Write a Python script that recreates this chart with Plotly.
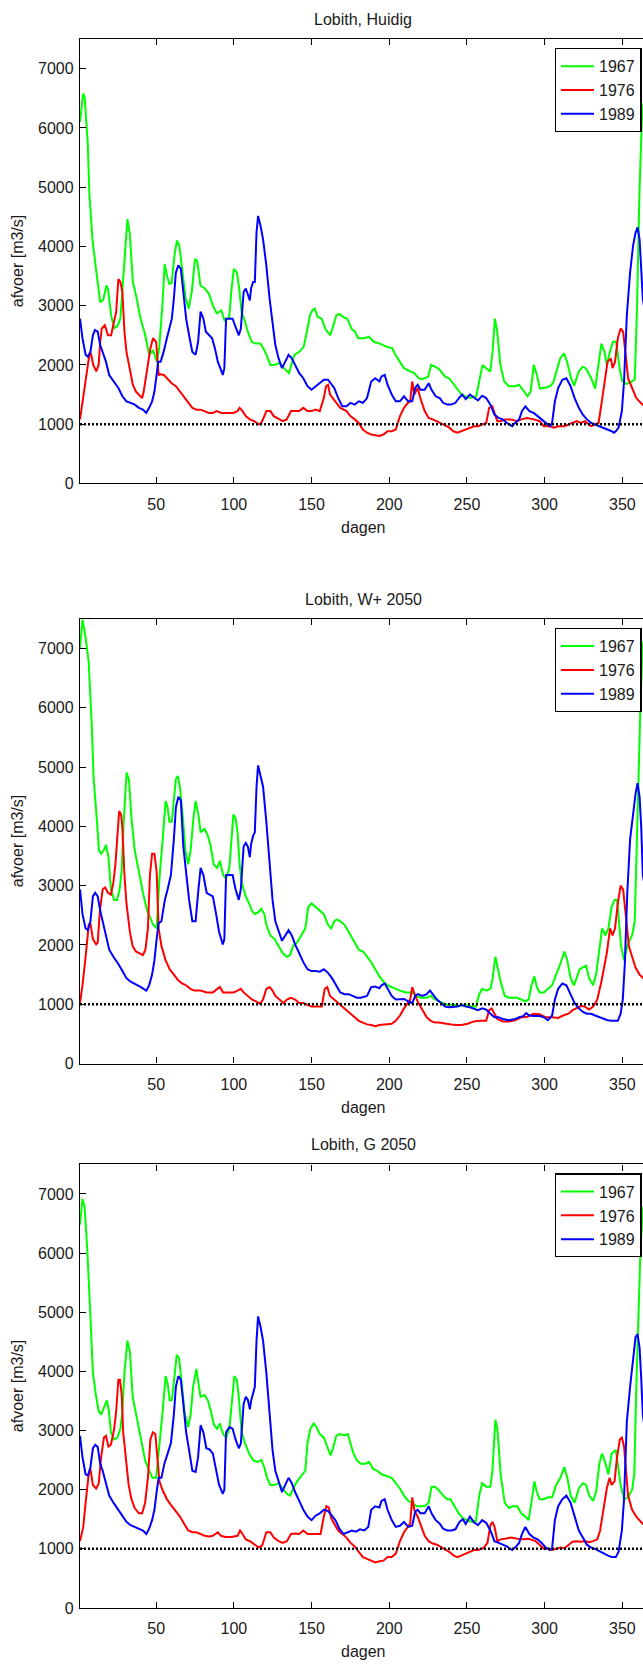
import plotly.graph_objects as go

# ---------------- data (dag, afvoer m3/s) ----------------
jaren = ["1967", "1976", "1989"]
kleuren = ["#00ff00", "#ff0000", "#0000ff"]
titels = ["Lobith, Huidig", "Lobith, W+ 2050", "Lobith, G 2050"]
x_ticks = [50, 100, 150, 200, 250, 300, 350]
y_ticks = [0, 1000, 2000, 3000, 4000, 5000, 6000, 7000]
drempel = 1000
dagen_bereik = [1, 365]

huidig_1967 = [(1,6100),(3,6580),(4,6520),(6,5740),(7,4900),(9,4120),(11,3680),(13,3230),(14,3060),(16,3100),(18,3340),(19,3290),(21,2840),(23,2620),(25,2650),(27,2780),(28,3120),(30,3900),(31.5,4460),(33,4230),(35,3400),(37.5,3120),(40,2780),(43,2500),(45.5,2170),(48,2250),(50.5,2050),(52,2300),(54,3000),(55.5,3700),(57,3500),(58.5,3370),(60,3380),(62,3900),(63.5,4100),(65,4000),(67,3520),(69,3120),(71,2950),(73,3250),(75,3790),(76.5,3750),(78.5,3340),(81,3300),(84,3200),(86.5,3000),(89,2870),(92,2920),(94,2750),(97,2800),(98.5,3280),(100,3620),(102,3560),(103.5,3280),(105,2890),(107,2750),(109,2560),(111.5,2390),(114,2360),(117,2360),(119,2280),(121,2170),(123.5,2000),(126,2000),(129,2030),(132,1950),(135.5,1860),(137,2000),(139,2170),(142.5,2230),(145,2310),(147,2560),(149,2840),(150.5,2920),(152,2950),(154,2810),(156.5,2780),(159,2600),(162,2500),(164,2660),(166,2840),(168,2860),(171,2800),(173,2780),(176,2600),(178,2560),(180,2450),(184,2450),(187,2475),(190,2390),(194,2360),(198,2310),(202,2280),(204,2170),(207,2050),(209.5,1945),(213.5,1890),(216,1860),(219,1775),(221,1760),(225,1800),(227,2000),(229,1980),(232,1930),(236,1800),(238.5,1775),(241,1690),(244,1580),(246.5,1500),(249,1470),(252,1440),(256,1470),(258.5,1830),(260,2000),(262.5,1940),(265,1890),(266.5,2220),(268,2780),(269.5,2560),(271.5,2000),(274,1720),(277,1640),(281,1640),(283.5,1665),(286,1580),(289,1470),(291,1550),(293,2000),(295,1830),(297,1600),(301,1620),(303.5,1640),(305.5,1700),(307.5,1900),(310,2110),(312.5,2195),(314.5,2050),(317,1775),(319,1650),(322,1890),(324.5,1970),(326.5,1940),(330,1775),(332.5,1600),(335,2110),(336.5,2360),(338.5,2220),(340,2000),(342,2220),(344,2390),(346,2390),(347,2170),(348.5,1900),(350,1720),(352.5,1680),(355,1700),(358,1750),(359.5,3000),(361,4900),(362.5,6100),(363.5,6400),(365,6500)]
huidig_1976 = [(1,1080),(3,1440),(5,1830),(7,2170),(8,2200),(9.5,2000),(11.5,1890),(13,2000),(14,2390),(15,2615),(17,2670),(19,2500),(21,2500),(23,2730),(24.3,2900),(25.7,3450),(27,3400),(28.3,3230),(29.6,2560),(30.9,2220),(33,1945),(35,1665),(37,1550),(39,1500),(41,1440),(42,1550),(44.2,1890),(46.3,2280),(48,2450),(50,2390),(51.6,1830),(53,1840),(55,1830),(57.5,1760),(60,1690),(62.7,1640),(65.3,1550),(68,1440),(70.6,1360),(73.3,1275),(76,1245),(78.6,1245),(81,1220),(84,1190),(86.5,1190),(89,1220),(92,1190),(95.8,1190),(99.7,1190),(102.4,1220),(103.7,1275),(105.6,1220),(107.7,1135),(110.3,1080),(113,1050),(116,995),(117.7,1020),(121,1220),(123.5,1220),(125.7,1135),(129,1080),(131.5,1050),(134,1080),(136.8,1220),(139.4,1220),(142,1220),(144.7,1275),(147.4,1220),(150,1220),(152.6,1245),(155.3,1220),(157.9,1440),(159.3,1640),(160.6,1665),(161.9,1500),(163.8,1440),(165.9,1360),(168.5,1275),(172.5,1220),(175,1135),(177.8,1080),(180.4,1020),(183,910),(185.7,855),(188.4,825),(191,815),(193.7,800),(196.3,825),(198.9,880),(201.6,880),(204.2,910),(206.9,1135),(209.5,1275),(212,1360),(213.5,1385),(214.8,1720),(216.1,1500),(218.3,1610),(220,1440),(222.8,1220),(225.4,1105),(228,1080),(230.7,1050),(234.7,995),(238.6,940),(241.3,880),(243.9,855),(246.6,880),(249.2,910),(251.9,940),(254.5,965),(257,965),(259.8,995),(262.4,1020),(264.3,1275),(266.4,1300),(267.7,1190),(269.6,1050),(271.7,1050),(274.3,1080),(278.3,1080),(282.3,1050),(285,1080),(288.9,1105),(292.9,1080),(296.8,1050),(299.5,965),(303.4,965),(306.1,940),(308.7,965),(312.7,965),(315.3,995),(318,1020),(320.6,1050),(323.3,1020),(325.9,1050),(329.9,965),(332.5,995),(334.7,1020),(336.5,1330),(338.4,1720),(340.5,2055),(342.6,2110),(343.7,1945),(345.3,2055),(347.1,2450),(348.9,2615),(350.5,2560),(352.4,2110),(353.7,1775),(356.3,1610),(359,1440),(363,1330),(365,1300)]
huidig_1989 = [(1,2780),(2.6,2450),(4.6,2170),(6,2140),(7.7,2220),(9.3,2500),(10.6,2590),(12.4,2560),(14,2335),(15.6,2220),(17.7,2055),(19.8,1830),(22.5,1720),(25.7,1610),(28.3,1470),(30.9,1385),(33.6,1360),(36.2,1330),(38.9,1275),(41.5,1245),(43.6,1190),(45.5,1275),(47.4,1385),(48.9,1550),(50.3,1830),(51.3,2055),(52.9,2055),(54.8,2220),(56.9,2450),(58.7,2615),(60.1,2780),(61.4,3120),(62.7,3560),(64.3,3680),(65.9,3620),(67.5,3230),(69.3,2780),(71.2,2500),(73.3,2220),(75.4,2170),(77,2390),(78.6,2900),(80.4,2780),(82,2560),(83.9,2500),(86,2450),(87.8,2280),(89.7,2055),(91.3,1945),(92.9,1830),(93.9,1945),(95,2780),(97.1,2780),(99.2,2780),(101.1,2640),(103.2,2500),(104.5,2615),(106.3,3230),(107.7,3290),(109,3200),(110.3,3090),(111.1,3290),(112.4,3400),(113.5,3400),(114.6,4235),(115.6,4515),(117.2,4345),(118.8,4120),(120.9,3680),(123,3120),(124.9,2670),(126.7,2335),(128.8,2110),(131,1945),(133.1,2055),(135.2,2170),(137.3,2110),(139.4,2000),(142.1,1860),(144.7,1775),(147.4,1640),(150,1580),(152.6,1640),(155.3,1690),(157.9,1750),(160.6,1750),(162.7,1665),(164.6,1610),(167.2,1440),(169.8,1300),(172.5,1300),(175.1,1360),(177.8,1330),(180.4,1385),(183.1,1360),(185.7,1440),(188.4,1720),(191,1775),(193.7,1720),(195,1805),(197.1,1830),(198.9,1665),(201.6,1500),(204.2,1385),(206.9,1385),(209.5,1470),(212.2,1385),(214.8,1385),(216.7,1610),(218.3,1665),(220.1,1580),(222.8,1580),(225.4,1690),(227.2,1580),(229.9,1470),(232.5,1440),(234.7,1360),(237.3,1330),(239.9,1330),(242.6,1360),(245.2,1450),(247,1500),(249.2,1420),(251.9,1500),(254.5,1450),(257.1,1400),(259.8,1480),(262.4,1440),(265.1,1330),(267.7,1160),(270.4,1105),(273,1080),(275.7,1020),(279.1,965),(281,1020),(283.6,1080),(285.4,1220),(287.6,1300),(290.2,1220),(292.9,1190),(295.5,1135),(298.1,1080),(300.8,1020),(303.4,965),(304.8,1020),(306.6,1385),(308.7,1610),(311.4,1750),(314,1775),(316.7,1640),(319.3,1440),(322,1275),(324.6,1160),(327.2,1080),(329.9,1020),(332.5,995),(335.2,965),(337.8,940),(340.5,910),(343.1,880),(344.6,855),(345.8,880),(347.6,940),(349.7,1220),(351.1,1720),(352.9,2840),(355,3560),(356.9,4010),(358.5,4230),(359.8,4320),(361.1,4120),(362.2,3680),(363.2,3120),(365,2800)]

wplus_1967 = [(1,7010),(2.6,7490),(4.6,7190),(6.6,6770),(8.5,5750),(9.8,4800),(11.6,4200),(13.2,3600),(14.6,3540),(16.4,3600),(17.7,3690),(19.3,3480),(20.9,2940),(23,2760),(24.8,2760),(26.5,2940),(27.8,3240),(29.1,4080),(31,4910),(32.5,4790),(34.1,4140),(36.2,3600),(38.9,3240),(41.5,2880),(44.2,2580),(46.3,2460),(48.1,2340),(50.3,2280),(52.1,3120),(54.2,3780),(56.1,4430),(57.4,4315),(58.5,4080),(60.1,4080),(61.4,4430),(62.7,4800),(64,4850),(65.3,4670),(67.2,4140),(68.8,3600),(70.6,3360),(72.2,3600),(73.8,4080),(75.4,4430),(77.2,4200),(78.6,3900),(81.2,3960),(83.3,3840),(85.2,3660),(87,3360),(89.2,3300),(91,3420),(93.1,3180),(95,3120),(97.1,3300),(98.4,3720),(99.7,4200),(101.1,4140),(102.4,3900),(103.7,3360),(105,3060),(106.3,2940),(107.7,2820),(109.8,2700),(111.6,2580),(113.5,2520),(115.6,2550),(117.7,2610),(119.6,2520),(120.9,2340),(123.5,2160),(126.2,2100),(128.8,1980),(131.5,1860),(134.1,1800),(136.2,1830),(138.1,1980),(140.7,2040),(143.4,2160),(146,2280),(147.9,2640),(150,2700),(152.6,2640),(155.3,2580),(157.9,2520),(160.6,2340),(162.7,2280),(164.6,2400),(166.4,2430),(168.5,2400),(171.2,2340),(173.3,2250),(175.1,2160),(177.8,2040),(180.4,1920),(183.1,1890),(185.7,1800),(188.4,1710),(191,1590),(193.7,1470),(196.3,1380),(198.9,1320),(201.6,1290),(204.2,1260),(206.9,1230),(210.8,1200),(214.8,1200),(217.5,1140),(220.1,1110),(224.1,1110),(226.7,1140),(229.4,1080),(232,1050),(234.7,1020),(237.3,990),(241.3,990),(245.2,970),(249.2,990),(253.2,960),(255.8,960),(257.9,1170),(259.8,1260),(262.4,1230),(265.1,1260),(266.4,1410),(268.3,1800),(269.6,1620),(271.7,1380),(274.3,1140),(277,1110),(279.6,1110),(282.3,1110),(284.9,1080),(287.6,1050),(289.7,1080),(291.5,1320),(293.4,1470),(295,1290),(296.8,1200),(299.5,1200),(302.1,1260),(304.8,1320),(307.4,1500),(310.1,1680),(312.7,1890),(314.6,1740),(316.7,1440),(318.8,1320),(320.6,1440),(322.5,1590),(324.6,1620),(326.7,1650),(328.6,1440),(331.2,1320),(333.1,1500),(335.2,1920),(337,2280),(339.2,2160),(341,2280),(343.1,2640),(345,2760),(346.6,2760),(347.9,2340),(349.2,1980),(351.1,1740),(353.2,1980),(355,2100),(356.3,2160),(358,2400),(359.5,4000),(360.8,5270),(361.6,5990),(363,7070),(365,7200)]
wplus_1976 = [(1,1020),(2.6,1320),(4.6,1800),(6.6,2340),(7.7,2370),(9.3,2100),(11.4,2010),(12.4,2040),(13.8,2580),(15.6,2940),(17.2,2970),(19,2880),(20.9,2850),(22.5,3060),(23.8,3360),(25.1,3900),(26.2,4260),(27.5,4200),(28.3,3960),(29.6,3180),(30.9,2700),(33.1,2220),(34.9,1980),(37,1890),(39.7,1860),(41.5,1830),(43.1,1920),(44.7,2280),(46,3180),(47.4,3540),(48.9,3540),(50.3,3240),(51.6,2280),(53.4,1980),(56.1,1740),(58.7,1590),(61.4,1500),(64,1410),(66.7,1350),(69.3,1320),(72,1260),(74.6,1230),(78.6,1230),(82.5,1200),(86.5,1200),(89.7,1260),(91,1290),(93.1,1200),(95.8,1200),(99.7,1200),(102.4,1230),(104.5,1260),(106.3,1200),(109,1140),(111.6,1080),(114.3,1050),(116.9,1005),(118.8,1080),(120.9,1260),(123,1290),(124.9,1230),(126.7,1140),(129.4,1080),(132,1020),(134.1,1080),(136.8,1110),(139.4,1080),(142.1,1020),(144.7,1020),(147.4,990),(150,960),(152.6,960),(156.6,960),(158.5,1260),(160.1,1290),(161.9,1140),(164.6,1080),(167.2,1020),(169.8,960),(172.5,900),(175.1,840),(177.8,780),(180.4,720),(183.1,690),(185.7,660),(188.4,650),(191,630),(193.7,650),(196.3,660),(198.9,670),(201.6,670),(204.2,720),(206.9,810),(209.5,930),(212.2,1020),(213.5,1080),(214.8,1290),(216.7,1140),(218.8,1020),(221.4,900),(224.1,780),(226.7,720),(229.4,690),(232,690),(236,670),(239.9,660),(243.9,650),(246.6,650),(250.5,670),(254.5,710),(258.5,720),(262.4,720),(264.3,900),(265.9,930),(267.7,840),(269.6,750),(273,710),(277,710),(281,730),(284.9,780),(288.9,790),(292.9,840),(296.8,830),(300.8,780),(304.8,780),(308.7,770),(311.9,810),(315.3,840),(318,900),(320.6,930),(323.3,970),(325.9,960),(328.6,910),(331.2,960),(333.9,1080),(336.5,1380),(338.4,1680),(340,1860),(342.1,2280),(343.7,2160),(345.3,2280),(347.1,2700),(348.9,3000),(350.5,2940),(352.4,2460),(354.2,1980),(356.3,1800),(358.5,1620),(361.1,1500),(363.2,1440),(365,1400)]
wplus_1989 = [(1,2940),(2.6,2520),(4.6,2280),(6.1,2250),(7.7,2400),(9.3,2820),(10.8,2880),(12.4,2820),(14,2580),(15.6,2400),(17.7,2160),(19.8,1920),(22.5,1800),(25.7,1680),(28.3,1560),(30.9,1440),(33.6,1380),(36.2,1350),(40.2,1290),(43.7,1230),(45.5,1320),(47.4,1500),(48.9,1740),(50.3,2100),(51.6,2370),(53.4,2400),(55.6,2760),(57.4,2940),(59.5,3180),(61.4,3780),(62.7,4320),(64.3,4500),(65.9,4440),(67.5,3660),(69.3,3180),(71.2,2760),(73.3,2400),(75.4,2400),(77,2880),(78.6,3300),(80.4,3180),(82.5,2880),(84.4,2850),(86.5,2820),(88.6,2520),(90.5,2220),(92.9,2010),(93.9,2100),(95,3180),(97.1,3180),(99.2,3180),(101.1,2940),(103.2,2760),(104.5,2940),(106.3,3660),(107.7,3720),(109,3660),(110.3,3480),(111.1,3700),(112.4,3840),(113.5,3900),(114.6,4670),(115.6,5030),(117.2,4850),(118.8,4670),(120.9,4080),(123,3360),(124.9,2760),(126.7,2400),(128.8,2220),(131,2070),(133.1,2160),(135.2,2250),(137.3,2160),(139.4,2010),(142.1,1860),(144.7,1710),(147.4,1590),(150,1560),(152.6,1560),(155.3,1550),(157.9,1590),(160.6,1530),(163.2,1440),(165.9,1320),(168.5,1200),(171.2,1170),(173.8,1170),(176.5,1140),(179.1,1110),(181.7,1110),(185.7,1140),(188.4,1290),(191,1300),(193.7,1270),(195,1320),(197.1,1350),(198.9,1260),(201.6,1140),(204.2,1080),(206.9,1080),(209.5,1090),(212.2,1050),(214.8,1020),(216.7,1140),(218.3,1170),(221.4,1140),(224.1,1170),(226.2,1230),(228,1170),(230.7,1080),(233.3,1020),(236,960),(238.6,950),(241.3,960),(243.9,960),(246.6,990),(249.2,960),(251.9,950),(254.5,930),(257.1,900),(259.8,930),(262.4,910),(265.1,840),(267.7,780),(270.4,780),(273,750),(277,730),(281,750),(283.6,780),(286.2,800),(288.1,850),(290.2,810),(292.9,800),(296.8,800),(299.5,780),(302.1,730),(304.8,810),(306.6,1080),(308.7,1260),(311.4,1350),(314,1320),(316.7,1170),(319.3,1020),(322,930),(324.6,870),(327.2,840),(329.9,840),(332.5,810),(335.2,780),(337.8,750),(340.5,730),(343.1,720),(347.1,720),(348.9,840),(350.3,1080),(351.6,1680),(353.2,2880),(355,3780),(356.9,4200),(358.5,4550),(359.8,4730),(361.1,4500),(362.2,3960),(363.2,3180),(365,2900)]

g_1967 = [(1,6480),(2.6,6920),(4,6770),(5.8,6000),(7.7,4930),(9.3,3980),(11.1,3620),(13,3330),(14.6,3270),(16.4,3390),(18.3,3510),(19.6,3330),(20.9,2970),(23,2850),(25.1,2880),(27,3030),(28.3,3330),(29.6,3980),(31.5,4520),(33.1,4340),(34.9,3570),(37.6,3210),(40.2,2850),(42.9,2500),(45.5,2320),(47.6,2200),(50,2200),(52.1,2730),(54,3270),(56.1,3920),(57.4,3800),(58.7,3510),(60.1,3510),(61.6,3860),(63.2,4280),(64.8,4220),(66.7,3740),(68.5,3270),(70.6,3060),(72.2,3270),(73.8,3740),(75.9,4040),(77.2,3800),(78.6,3570),(81.2,3600),(83.3,3510),(85.2,3330),(87.3,3090),(89.2,3030),(91,3120),(93.1,2940),(95,2880),(97.1,3030),(98.7,3450),(100.3,3920),(101.9,3860),(103.2,3570),(105,2970),(107.1,2790),(109.8,2610),(112.4,2500),(115.1,2470),(117.7,2500),(119.6,2380),(121.4,2200),(123.5,2080),(126.2,2080),(128.8,2110),(131.5,2020),(134.1,1930),(136.2,1900),(138.1,2020),(140.7,2140),(143.4,2230),(146,2320),(147.4,2790),(149.2,3030),(151.3,3120),(153.2,3060),(155.3,2940),(157.9,2880),(160.1,2730),(162.2,2580),(163.8,2700),(165.9,2910),(168,2940),(171.2,2920),(173.3,2940),(175.1,2790),(177,2610),(179.1,2500),(181.7,2440),(184.9,2440),(187,2470),(189.7,2350),(192.3,2320),(195,2260),(198.9,2230),(201.6,2200),(204.2,2110),(206.9,2020),(209.5,1900),(212.2,1810),(214.8,1780),(217.5,1720),(220.1,1720),(222.8,1720),(225.4,1780),(227.2,2050),(229.4,2050),(232,1990),(234.7,1900),(237.3,1840),(239.4,1840),(242.1,1720),(244.7,1600),(247.4,1515),(250,1485),(253.2,1455),(255.8,1470),(257.9,1900),(259.8,2110),(262.4,2050),(265.1,2050),(266.4,2320),(268.3,3180),(269.6,3030),(271.7,2260),(274.3,1780),(277,1690),(279.6,1720),(282.3,1720),(284.9,1600),(287.6,1545),(289.7,1485),(291.5,1780),(293.4,2140),(295,1960),(296.8,1840),(299.5,1840),(302.1,1870),(304.8,1870),(307.4,2080),(310.1,2200),(312.7,2380),(314.6,2200),(316.7,1900),(319.3,1780),(322,2020),(324.6,2110),(326.7,2080),(328.6,1900),(331.2,1810),(333.1,1960),(335.2,2440),(337,2610),(339.2,2440),(341,2260),(343.1,2610),(345.8,2670),(347.1,2380),(348.9,2080),(351.1,1840),(353.7,1870),(356.3,2000),(357.7,2260),(359,3740),(360.3,4930),(361.6,6000),(363.2,6770),(365,6800)]
g_1976 = [(1,1130),(3.1,1370),(4.6,1780),(6.6,2260),(7.7,2350),(9.3,2080),(11.4,2020),(13,2100),(14.6,2550),(16.4,2880),(17.7,2910),(19.3,2730),(20.9,2760),(23,3030),(24.3,3330),(25.7,3860),(26.7,3860),(27.8,3620),(28.8,2970),(30.4,2500),(32.3,2080),(34.1,1840),(36.2,1690),(38.9,1600),(41,1600),(42.9,1780),(44.7,2200),(46.3,2850),(47.9,2970),(49.5,2940),(50.8,2550),(52.1,2140),(54.2,1990),(56.9,1840),(60.1,1720),(62.7,1630),(65.3,1545),(68,1425),(70.6,1310),(73.3,1280),(75.9,1280),(78.6,1250),(81.2,1220),(83.9,1210),(86.5,1220),(89.7,1280),(91.8,1220),(94.4,1200),(98.4,1200),(102.4,1220),(104,1310),(105.6,1250),(107.7,1160),(110.3,1130),(113,1080),(116.1,1020),(118.3,1060),(120.9,1280),(123.5,1280),(125.7,1190),(128.8,1130),(131.5,1100),(134.1,1130),(136.8,1250),(139.4,1260),(142.1,1250),(144.7,1310),(147.4,1250),(150,1250),(152.6,1250),(155.8,1250),(157.9,1545),(159.5,1720),(161.1,1700),(162.7,1515),(164.6,1425),(167.2,1310),(169.8,1250),(172.5,1190),(175.1,1100),(177.8,1040),(180.4,950),(183.1,860),(185.7,830),(188.4,800),(191,770),(193.7,790),(196.3,800),(198.9,860),(201.6,860),(204.2,920),(206.9,1130),(209.5,1280),(212.2,1370),(213.5,1425),(214.8,1870),(216.1,1660),(218.3,1545),(220.1,1400),(222.8,1220),(225.4,1130),(228,1090),(230.7,1070),(234.7,1010),(238.6,950),(241.3,890),(243.9,860),(246.6,890),(249.2,920),(251.9,950),(254.5,980),(257.1,980),(260.6,1010),(263.2,1100),(265.1,1400),(266.4,1455),(267.7,1380),(269.6,1130),(271.7,1160),(274.3,1170),(278.3,1190),(282.3,1170),(286.2,1160),(289.7,1170),(294.2,1130),(296.8,1070),(299.5,1000),(302.1,1000),(304.8,980),(307.4,1000),(310.1,1020),(312.7,1010),(315.3,1070),(318,1120),(320.6,1130),(323.3,1120),(325.9,1130),(328.6,1110),(331.2,1130),(333.9,1160),(335.7,1310),(337.8,1660),(340,2020),(341.8,2200),(343.1,2080),(345,2140),(346.6,2550),(348.4,2850),(349.7,2880),(351.1,2730),(352.4,2320),(353.7,1900),(356.3,1660),(359,1545),(363,1425),(365,1400)]
g_1989 = [(1,2910),(2.6,2550),(4.6,2260),(6.1,2240),(7.7,2380),(9.3,2700),(10.8,2760),(12.4,2720),(14,2440),(15.6,2320),(17.7,2110),(19.8,1900),(22.5,1780),(25.7,1660),(28.3,1545),(30.9,1455),(33.6,1400),(36.2,1370),(38.9,1340),(41.5,1310),(43.7,1250),(45.5,1340),(47.4,1485),(48.9,1660),(50.3,1960),(51.6,2200),(53.4,2200),(55.3,2440),(57.4,2610),(59.5,2790),(61.4,3270),(62.7,3740),(64.3,3920),(65.9,3860),(67.5,3450),(69.3,2970),(71.2,2670),(73.3,2320),(75.4,2300),(77,2550),(78.6,3090),(80.4,2970),(82.3,2700),(84.4,2680),(86.5,2610),(88.6,2320),(90.5,2080),(92.9,1930),(93.9,2000),(95,2970),(97.1,3060),(99.2,3030),(101.1,2850),(103.2,2700),(104.5,2780),(106.3,3450),(107.7,3570),(109,3520),(110.3,3360),(111.1,3500),(112.4,3620),(113.5,3740),(114.6,4520),(115.6,4930),(117.2,4750),(118.8,4520),(120.9,3980),(123,3270),(124.9,2670),(126.7,2320),(128.8,2140),(131,1960),(133.1,2080),(135.2,2200),(137.3,2110),(139.4,1960),(142.1,1810),(144.7,1660),(147.4,1545),(150,1485),(152.6,1560),(155.3,1600),(157.9,1660),(160.6,1640),(162.7,1575),(165.3,1485),(167.9,1340),(170.6,1250),(173.3,1280),(175.9,1310),(178.6,1290),(181.2,1330),(183.9,1310),(186.5,1370),(188.4,1660),(191,1720),(193.7,1700),(195,1810),(197.1,1840),(198.9,1660),(201.6,1485),(204.2,1370),(206.9,1390),(209.5,1455),(212.2,1370),(214.8,1390),(216.7,1630),(218.3,1660),(220.1,1600),(222.8,1600),(225.4,1720),(227.2,1600),(229.9,1485),(232.5,1425),(234.7,1340),(237.3,1310),(239.9,1310),(242.6,1330),(245.2,1455),(247.4,1500),(249.2,1420),(251.9,1545),(254.5,1450),(257.1,1400),(259.8,1485),(262.4,1440),(265.1,1310),(267.7,1130),(270.4,1100),(273,1070),(275.7,1040),(279.1,980),(281,1020),(283.6,1100),(285.4,1250),(287.6,1370),(290.2,1250),(292.9,1190),(295.5,1160),(298.1,1100),(300.8,1020),(303.4,980),(304.8,1010),(306.6,1485),(308.7,1720),(311.4,1840),(314,1900),(316.7,1780),(319.3,1545),(322,1310),(324.6,1190),(327.2,1070),(329.9,1020),(332.5,1000),(335.2,960),(337.8,920),(340.5,890),(343.1,860),(345.8,860),(347.6,950),(349.7,1310),(351.1,1840),(352.9,3150),(355,3740),(356.9,4220),(358.5,4580),(359.8,4630),(361.1,4400),(362.2,3860),(363.2,3270),(365,2900)]

scenarios = [
    [huidig_1967, huidig_1976, huidig_1989],
    [wplus_1967, wplus_1976, wplus_1989],
    [g_1967, g_1976, g_1989],
]

# ---------------- layout geometry (pixels) ----------------
W, H = 643, 1666
LEFT = 80
plot_px = [(39.3, 486.0), (622.3, 1069.3), (1170.7, 1616.7)]  # (top, bottom)
X_RANGE = [1, 363.3]
FONT = "Liberation Sans, Arial, sans-serif"
TXT = "#1a1a1a"


def py(v):
    return 1 - v / H


fig = go.Figure()
annotations = []
legend_names = ["legend", "legend2", "legend3"]

for i, series in enumerate(scenarios):
    sfx = "" if i == 0 else str(i + 1)
    xa, ya = "x" + sfx, "y" + sfx
    for jaar, kleur, data in zip(jaren, kleuren, series):
        fig.add_trace(go.Scatter(
            x=[d for d, _ in data], y=[q for _, q in data], mode="lines",
            name=jaar, line=dict(color=kleur, width=2),
            xaxis=xa, yaxis=ya, legend=legend_names[i], showlegend=True,
        ))
    fig.add_trace(go.Scatter(
        x=dagen_bereik, y=[drempel, drempel], mode="lines",
        line=dict(color="black", width=2.5, dash="2px,2px"),
        xaxis=xa, yaxis=ya, showlegend=False, hoverinfo="skip",
    ))

    top, bot = plot_px[i]
    axis_common = dict(
        showline=True, linecolor="black", linewidth=1.3,
        ticks="inside", ticklen=6, tickcolor="black", tickwidth=1,
        showgrid=False, zeroline=False,
        tickfont=dict(family=FONT, size=16, color=TXT),
    )
    fig.layout["xaxis" + sfx] = dict(
        axis_common, domain=[LEFT / W, 1], range=X_RANGE,
        tickvals=x_ticks, mirror="ticks", anchor=ya, ticklabelstandoff=6,
    )
    fig.layout["yaxis" + sfx] = dict(
        axis_common, domain=[py(bot), py(top)], range=[0, 7500],
        tickvals=y_ticks, anchor=xa, mirror=False, ticklabelstandoff=2,
    )
    fig.layout[legend_names[i]] = dict(
        x=0.998, xanchor="right", xref="paper",
        y=py(top + 9), yanchor="top", yref="paper",
        bgcolor="white", bordercolor="black", borderwidth=1.3,
        font=dict(family=FONT, size=16, color=TXT),
        tracegroupgap=0, itemwidth=33,
    )
    mid_x = (LEFT + 646) / 2 / W
    annotations.append(dict(text=titels[i], x=mid_x, y=py(top - 19.5),
                            xref="paper", yref="paper", showarrow=False,
                            xanchor="center", yanchor="middle",
                            font=dict(family=FONT, size=16, color=TXT)))
    annotations.append(dict(text="dagen", x=mid_x, y=py(bot + 44),
                            xref="paper", yref="paper", showarrow=False,
                            xanchor="center", yanchor="middle",
                            font=dict(family=FONT, size=16, color=TXT)))
    annotations.append(dict(text="afvoer [m3/s]", x=17 / W, y=py((top + bot) / 2),
                            xref="paper", yref="paper", showarrow=False,
                            xanchor="center", yanchor="middle", textangle=-90,
                            font=dict(family=FONT, size=16, color=TXT)))

fig.update_layout(
    width=W, height=H, margin=dict(l=0, r=0, t=0, b=0),
    paper_bgcolor="white", plot_bgcolor="white",
    annotations=annotations,
)

fig.write_html("out.html")
